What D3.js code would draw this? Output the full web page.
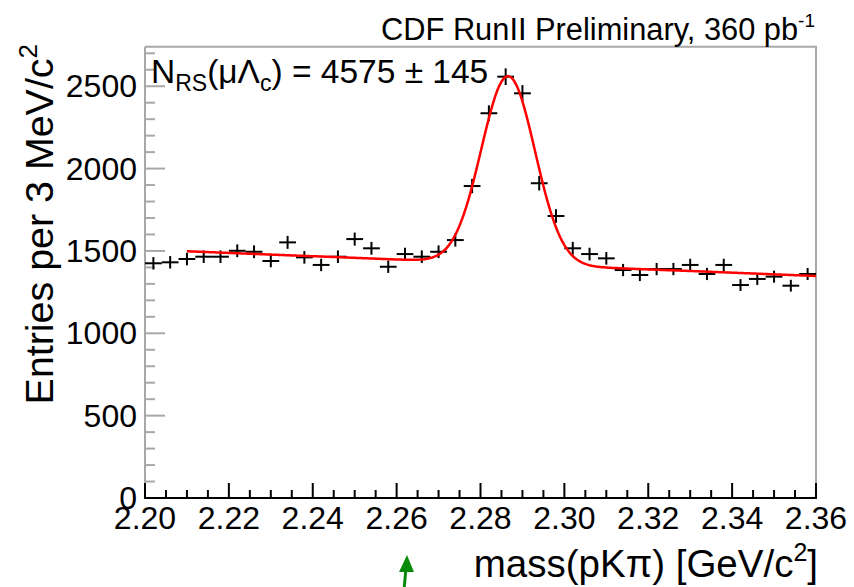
<!DOCTYPE html>
<html>
<head>
<meta charset="utf-8">
<script src="https://cdn.jsdelivr.net/npm/d3@7"></script>
<style>
  body { margin: 0; background: #fff; }
  svg { font-family: "Liberation Sans", Arial, Helvetica, sans-serif; }
</style>
</head>
<body>
<svg id="chart" width="854" height="587"></svg>
<script>
// ------ données ------
// centres des bins (GeV/c^2)
var binCenters = [2.202, 2.206, 2.210, 2.214, 2.218, 2.222, 2.226, 2.230, 2.234, 2.238,
                  2.242, 2.246, 2.250, 2.254, 2.258, 2.262, 2.266, 2.270, 2.274, 2.278,
                  2.282, 2.286, 2.290, 2.294, 2.298, 2.302, 2.306, 2.310, 2.314, 2.318,
                  2.322, 2.326, 2.330, 2.334, 2.338, 2.342, 2.346, 2.350, 2.354, 2.358];
var binHalfWidth = 0.002;
// entrées par bin
var entries = [1425, 1431, 1451, 1465, 1465, 1501, 1495, 1439, 1552, 1461,
               1415, 1465, 1572, 1516, 1404, 1481, 1465, 1495, 1566, 1894,
               2336, 2558, 2457, 1911, 1712, 1516, 1481, 1455, 1384, 1354,
               1390, 1390, 1415, 1360, 1415, 1293, 1330, 1344, 1289, 1360];
// ajustement : fond lineaire + gaussienne [p0, p1, x0, amplitude, moyenne, sigma]
var fitParams = [1398, -1000, 2.31, 1140, 2.2866, 0.0064];
var fitRange = [2.21, 2.36];
var xTicks = [2.20, 2.22, 2.24, 2.26, 2.28, 2.30, 2.32, 2.34, 2.36];
var yTicks = [0, 500, 1000, 1500, 2000, 2500];

// ------ cadre ------
var padL = 145, padR = 816, padT = 46.7, padB = 498;
var svg = d3.select("#chart");

var x = d3.scaleLinear().domain([2.20, 2.36]).range([padL, padR]);
var y = d3.scaleLinear().domain([0, 2740]).range([padB, padT]);

var grey = "#a8a8a8";

// bordure haut / droite
svg.append("path")
    .attr("d", `M${padL},${padT}H${padR}V${padB}`)
    .attr("fill", "none").attr("stroke", grey).attr("stroke-width", 2);

// axe y (graduations vers l'interieur)
var yMinor = d3.range(0, 2701, 100);
svg.append("g").selectAll("line")
    .data(yMinor)
    .enter().append("line")
    .attr("x1", padL).attr("x2", d => padL + (d % 500 === 0 ? 20 : 10))
    .attr("y1", d => y(d)).attr("y2", d => y(d))
    .attr("stroke", grey).attr("stroke-width", 2);
svg.append("line")
    .attr("x1", padL).attr("x2", padL).attr("y1", padT).attr("y2", padB)
    .attr("stroke", grey).attr("stroke-width", 2);

svg.append("g").selectAll("text")
    .data(yTicks)
    .enter().append("text")
    .attr("x", padL - 8).attr("y", d => y(d) + 11)
    .attr("text-anchor", "end")
    .attr("font-size", 32)
    .text(d => d);

// axe x
var xMinor = d3.range(0, 33).map(i => 2.20 + i * 0.005);
svg.append("g").selectAll("line")
    .data(xMinor)
    .enter().append("line")
    .attr("x1", d => x(d)).attr("x2", d => x(d))
    .attr("y1", padB).attr("y2", (d, i) => padB - (i % 4 === 0 ? 15 : 8))
    .attr("stroke", "#000").attr("stroke-width", 2);
svg.append("line")
    .attr("x1", padL - 1).attr("x2", padR + 1).attr("y1", padB).attr("y2", padB)
    .attr("stroke", "#000").attr("stroke-width", 2);

svg.append("g").selectAll("text")
    .data(xTicks)
    .enter().append("text")
    .attr("x", d => x(d)).attr("y", 529)
    .attr("text-anchor", "middle")
    .attr("font-size", 32)
    .text(d => d.toFixed(2));

// ------ points avec barres d'erreur ------
var pts = svg.append("g").selectAll("g")
    .data(binCenters.map((c, i) => ({c: c, n: entries[i]})))
    .enter().append("g");
pts.append("line")
    .attr("x1", d => x(d.c - binHalfWidth)).attr("x2", d => x(d.c + binHalfWidth))
    .attr("y1", d => y(d.n)).attr("y2", d => y(d.n))
    .attr("stroke", "#000").attr("stroke-width", 2);
pts.append("line")
    .attr("x1", d => x(d.c)).attr("x2", d => x(d.c))
    .attr("y1", d => y(d.n - Math.sqrt(d.n))).attr("y2", d => y(d.n + Math.sqrt(d.n)))
    .attr("stroke", "#000").attr("stroke-width", 2);

// ------ courbe d'ajustement ------
function fitFunc(m) {
    var p = fitParams;
    var g = (m - p[4]) / p[5];
    return p[0] + p[1] * (m - p[2]) + p[3] * Math.exp(-0.5 * g * g);
}
var fitX = d3.range(0, 301).map(i => fitRange[0] + i * (fitRange[1] - fitRange[0]) / 300);
svg.append("path")
    .datum(fitX)
    .attr("fill", "none").attr("stroke", "#ff0000").attr("stroke-width", 2.5)
    .attr("d", d3.line().x(d => x(d)).y(d => y(fitFunc(d))));

// ------ textes ------
var note = svg.append("text").attr("x", 151).attr("y", 83).attr("font-size", 33.5);
note.append("tspan").text("N");
note.append("tspan").attr("font-size", 23).attr("dy", 8).text("RS");
note.append("tspan").attr("dy", -8).text("(μΛ");
note.append("tspan").attr("font-size", 23).attr("dy", 8).text("c");
note.append("tspan").attr("dy", -8).text(") = 4575 ± 145");

var title = svg.append("text").attr("x", 815).attr("y", 40)
    .attr("text-anchor", "end").attr("font-size", 30.8);
title.append("tspan").text("CDF RunII Preliminary, 360 pb");
title.append("tspan").attr("font-size", 19).attr("dy", -13).text("-1");

var xTitle = svg.append("text").attr("x", 818).attr("y", 577)
    .attr("text-anchor", "end").attr("font-size", 38.5);
xTitle.append("tspan").text("mass(pKπ) [GeV/c");
xTitle.append("tspan").attr("font-size", 25).attr("dy", -16).text("2");
xTitle.append("tspan").attr("dy", 16).text("]");

var yTitle = svg.append("text")
    .attr("transform", "translate(53,44) rotate(-90)")
    .attr("text-anchor", "end").attr("font-size", 39.4);
yTitle.append("tspan").text("Entries per 3 MeV/c");
yTitle.append("tspan").attr("font-size", 26).attr("dy", -16).text("2");

// fleche verte
svg.append("line")
    .attr("x1", 404).attr("y1", 590).attr("x2", 406).attr("y2", 568)
    .attr("stroke", "#0a8a0a").attr("stroke-width", 3);
svg.append("path")
    .attr("d", "M399,572 L407,555 L414,572 Z")
    .attr("fill", "#0a8a0a");
</script>
</body>
</html>
